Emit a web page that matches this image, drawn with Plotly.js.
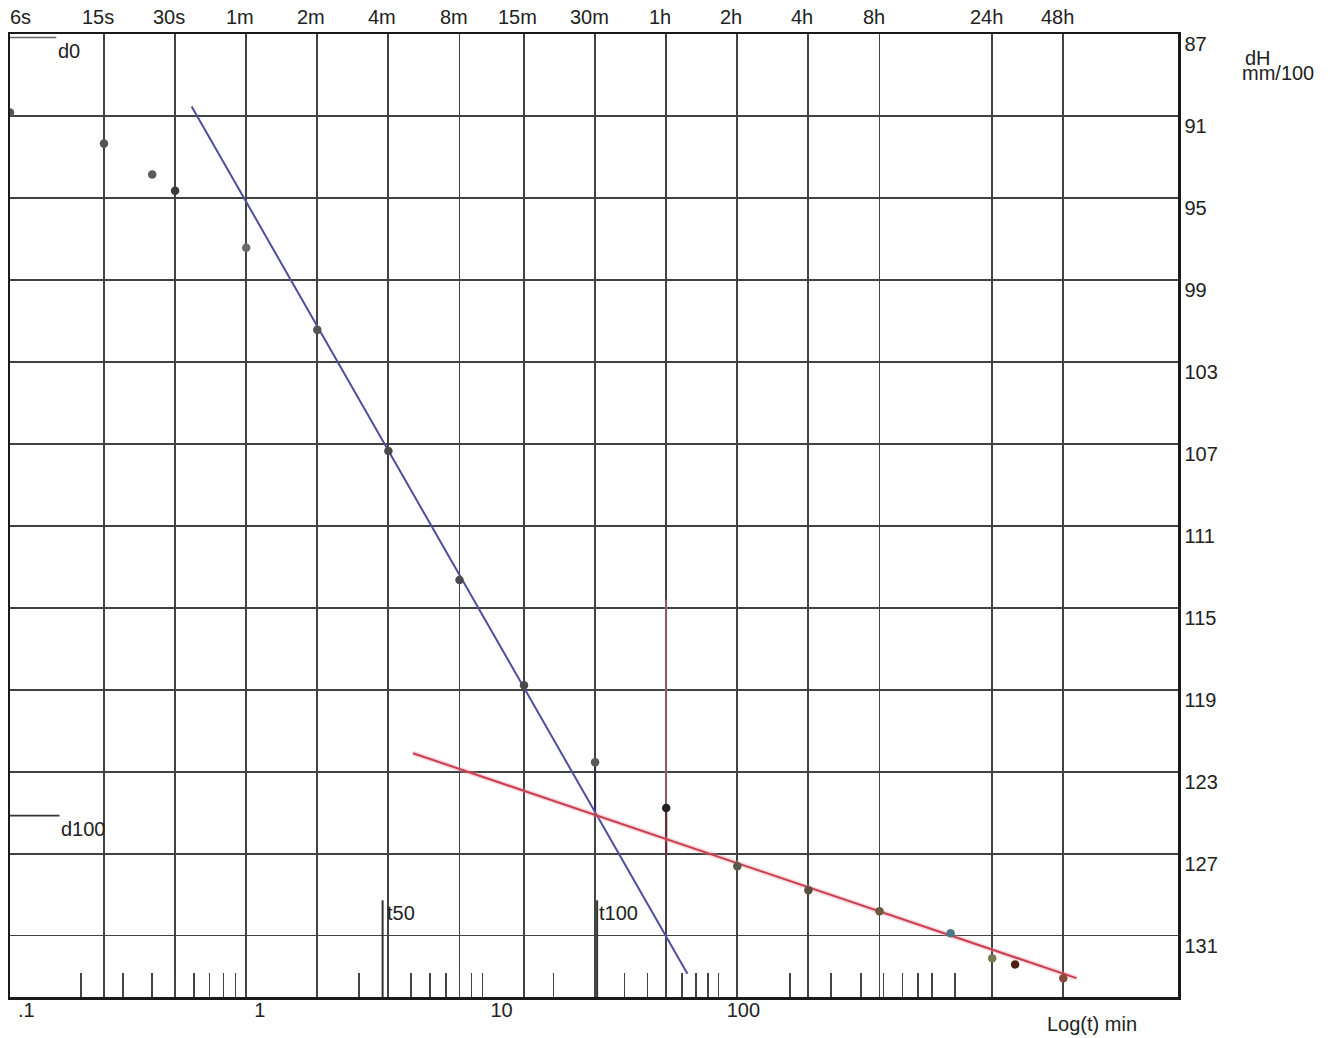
<!DOCTYPE html>
<html>
<head>
<meta charset="utf-8">
<script src="https://cdn.plot.ly/plotly-3.0.1.min.js"></script>
<style>
  html, body { margin: 0; padding: 0; background: #ffffff; }
  #chart { width: 1333px; height: 1038px; }
</style>
</head>
<body>
<div id="chart"></div>
<script>
// ---- Data ----
const timeMarks  = [0.1, 0.25, 0.5, 1, 2, 4, 8, 15, 30, 60, 120, 240, 480, 1440, 2880];
const timeLabels = ['6s', '15s', '30s', '1m', '2m', '4m', '8m', '15m', '30m', '1h', '2h', '4h', '8h', '24h', '48h'];

const logTicks  = [0.1, 0.2, 0.3, 0.4, 0.5, 0.6, 0.7, 0.8, 0.9,
                   1, 2, 3, 4, 5, 6, 7, 8, 9,
                   10, 20, 30, 40, 50, 60, 70, 80, 90,
                   100, 200, 300, 400, 500, 600, 700, 800, 1000];
const logLabelVals = [0.1, 1, 10, 100];
const logLabelText = ['.1', '1', '10', '100'];

const dHTicks = [87, 91, 95, 99, 103, 107, 111, 115, 119, 123, 127, 131];

const tData  = [0.1, 0.25, 0.4, 0.5, 1, 2, 4, 8, 15, 30, 60, 120, 240, 480, 960, 1440, 1800, 2880];
const dHData = [90.83, 92.35, 93.86, 94.65, 97.43, 101.44, 107.35, 113.65, 118.78, 122.54,
                124.78, 127.62, 128.79, 129.82, 130.89, 132.11, 132.41, 133.09];
const pointColors = ['#555555', '#555555', '#5a5a5a', '#3a3a3a', '#6a6a6a', '#555555', '#4a4a4a',
                     '#4a4a4a', '#4a4a4a', '#5a5a5a', '#222222', '#5a5a4a', '#5a5040', '#6a5a40',
                     '#4a7a8a', '#7a7a50', '#4a2010', '#8a4a3a'];

const blueT  = [0.5875, 73.8];
const blueDH = [90.54, 132.86];
const redT   = [5.08, 3275];
const redDH  = [122.10, 133.08];

const d0 = 87.17, d100 = 125.15;
const t50 = 3.78, t100 = 30.6;
const markTop = 129.28;

// ---- Chart ----
const FONT = 'Liberation Sans, Arial, Helvetica, sans-serif';
const xRange = [-1, 3.945];
const yRange = [134, 87];

const traces = [
  // Faint pink vertical at 1h
  { x: [60, 60], y: [114.6, 127], xaxis: 'x', yaxis: 'y', mode: 'lines',
    line: { color: 'rgba(240,160,190,0.35)', width: 3 } },
  // d0 and d100 reference lines
  { x: [0.1, 0.157], y: [d0, d0], xaxis: 'x', yaxis: 'y', mode: 'lines',
    line: { color: '#666666', width: 1.6 } },
  { x: [0.1, 0.162], y: [d100, d100], xaxis: 'x', yaxis: 'y', mode: 'lines',
    line: { color: '#333333', width: 1.6 } },
  // t50 / t100 markers
  { x: [t50, t50], y: [markTop, 134], xaxis: 'x', yaxis: 'y', mode: 'lines',
    line: { color: '#333333', width: 2 } },
  { x: [t100, t100], y: [markTop, 134], xaxis: 'x', yaxis: 'y', mode: 'lines',
    line: { color: '#333333', width: 2 } },
  // drop lines from points
  { x: [30, 30], y: [dHData[9], d100], xaxis: 'x', yaxis: 'y', mode: 'lines',
    line: { color: '#2a2a55', width: 2 } },
  { x: [60, 60], y: [dHData[10], 127], xaxis: 'x', yaxis: 'y', mode: 'lines',
    line: { color: '#5a2a2a', width: 2 } },
  // fitted lines
  { x: blueT, y: blueDH, xaxis: 'x', yaxis: 'y', mode: 'lines',
    line: { color: '#4e4e9e', width: 2 } },
  { x: redT, y: redDH, xaxis: 'x', yaxis: 'y', mode: 'lines',
    line: { color: 'rgba(240,140,160,0.35)', width: 5 } },
  { x: redT, y: redDH, xaxis: 'x', yaxis: 'y', mode: 'lines',
    line: { color: '#c8404f', width: 2 } },
  // measurement points
  { x: tData, y: dHData, xaxis: 'x2', yaxis: 'y', mode: 'markers',
    marker: { size: 8.5, color: pointColors } }
];

const annotations = [];
timeMarks.forEach((v, i) => {
  annotations.push({
    x: Math.log10(v), xref: 'x2', y: 1, yref: 'paper',
    text: timeLabels[i], showarrow: false,
    xanchor: i === 0 ? 'left' : 'center', yanchor: 'middle',
    xshift: i === 0 ? -2 : -6, yshift: 17,
    font: { family: FONT, size: 20, color: '#222222' }
  });
});
const textAnn = (x, xref, y, yref, text, xanchor) => ({
  x, xref, y, yref, text, showarrow: false, xanchor: xanchor || 'left', yanchor: 'middle',
  font: { family: FONT, size: 20, color: '#222222' }
});
annotations.push(textAnn(Math.log10(0.157), 'x', 87.85, 'y', 'd0'));
annotations.push(textAnn(Math.log10(0.162), 'x', 125.81, 'y', 'd100'));
annotations.push(textAnn(Math.log10(3.86), 'x', 129.92, 'y', 't50'));
annotations.push(textAnn(Math.log10(t100), 'x', 129.92, 'y', 't100'));
annotations.push(textAnn(1.0557, 'paper', 0.9755, 'paper', 'dH'));
annotations.push(textAnn(1.0531, 'paper', 0.959, 'paper', 'mm/100'));
annotations.push(textAnn(0.886, 'paper', -0.028, 'paper', 'Log(t) min'));

const layout = {
  width: 1333, height: 1038,
  margin: { l: 10, r: 155, t: 34, b: 41, pad: 0 },
  paper_bgcolor: '#ffffff', plot_bgcolor: '#ffffff',
  showlegend: false, hovermode: false,
  font: { family: FONT, size: 20, color: '#222222' },
  xaxis: {
    type: 'log', range: xRange, fixedrange: true,
    showgrid: false, zeroline: false,
    showline: true, mirror: true, linecolor: '#1a1a1a', linewidth: 2.5,
    tickmode: 'array', tickvals: logTicks,
    ticktext: logTicks.map(v => { const k = logLabelVals.indexOf(v); return k >= 0 ? logLabelText[k] : ''; }),
    ticks: 'inside', ticklen: 24, tickwidth: 1.6, tickcolor: '#444444',
    ticklabelposition: 'outside right', ticklabelshift: 6, ticklabelstandoff: -7,
    tickfont: { family: FONT, size: 20, color: '#222222' }
  },
  xaxis2: {
    type: 'log', range: xRange, overlaying: 'x', side: 'top', fixedrange: true,
    showgrid: true, gridcolor: '#424242', gridwidth: 1.9,
    zeroline: false, showline: false,
    tickmode: 'array', tickvals: timeMarks, ticks: '', showticklabels: false
  },
  yaxis: {
    range: yRange, side: 'right', fixedrange: true,
    showgrid: true, gridcolor: '#424242', gridwidth: 1.9,
    zeroline: false,
    showline: true, mirror: true, linecolor: '#1a1a1a', linewidth: 2.5,
    tickmode: 'array', tickvals: dHTicks, ticks: '',
    ticklabelposition: 'outside bottom', ticklabelshift: 4,
    tickfont: { family: FONT, size: 20, color: '#222222' }
  },
  annotations: annotations
};

Plotly.newPlot('chart', traces, layout, { staticPlot: true, displayModeBar: false });
</script>
</body>
</html>
